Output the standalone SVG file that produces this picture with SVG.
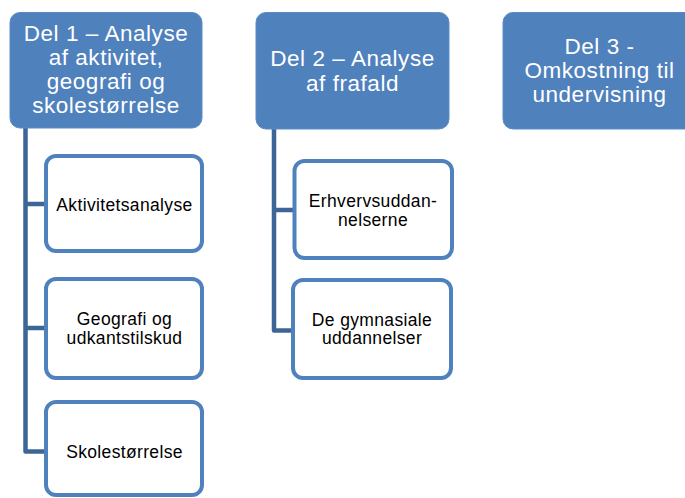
<svg xmlns="http://www.w3.org/2000/svg" width="685" height="498" viewBox="0 0 685 498">
<style>
.head{fill:#4F81BD;stroke:#5B8BC5;stroke-width:1}
.child{fill:#FFFFFF;stroke:#4F81BD;stroke-width:4}
.ht{font-family:"Liberation Sans",Arial,sans-serif;font-size:22.5px;letter-spacing:0.55px;fill:#FFFFFF;text-anchor:middle}
.ct{font-family:"Liberation Sans",Arial,sans-serif;font-size:17.5px;letter-spacing:0.35px;fill:#000000;text-anchor:middle}
.conn{fill:none;stroke:#3E6597;stroke-width:4.5;stroke-linejoin:round}
</style>
<rect width="685" height="498" fill="#FFFFFF"/>
<g id="connectors">
<path class="conn" d="M25.5,128 V451.5 H46 M25.5,204 H46 M25.5,328 H46"/>
<path class="conn" d="M274,129 V330.5 H293 M274,210 H293"/>
</g>
<g id="del1">
<rect class="head" x="10" y="12.5" width="192" height="115.5" rx="10"/>
<text class="ht" x="106" y="40.5">Del 1 – Analyse</text>
<text class="ht" x="106" y="64.5">af aktivitet,</text>
<text class="ht" x="106" y="89">geografi og</text>
<text class="ht" x="106" y="113">skolestørrelse</text>
</g>
<g id="del2">
<rect class="head" x="256" y="12.5" width="193" height="116.5" rx="10"/>
<text class="ht" x="352.5" y="65.5">Del 2 – Analyse</text>
<text class="ht" x="352.5" y="90.5">af frafald</text>
</g>
<g id="del3">
<rect class="head" x="503" y="12.5" width="193" height="116.5" rx="10"/>
<text class="ht" x="599.5" y="54">Del 3 -</text>
<text class="ht" x="599.5" y="78">Omkostning til</text>
<text class="ht" x="599.5" y="101.5">undervisning</text>
</g>
<g id="aktivitetsanalyse">
<rect class="child" x="46" y="156" width="156" height="95" rx="10"/>
<text class="ct" x="124.5" y="210.5">Aktivitetsanalyse</text>
</g>
<g id="geografi">
<rect class="child" x="46" y="279" width="156" height="99" rx="10"/>
<text class="ct" x="124.5" y="325">Geografi og</text>
<text class="ct" x="124.5" y="344">udkantstilskud</text>
</g>
<g id="skolestorrelse">
<rect class="child" x="46" y="402" width="156" height="93" rx="10"/>
<text class="ct" x="124.5" y="457.5">Skolestørrelse</text>
</g>
<g id="erhverv">
<rect class="child" x="294.5" y="161" width="157.5" height="97" rx="10"/>
<text class="ct" x="373" y="206.5">Erhvervsuddan-</text>
<text class="ct" x="373" y="225.5">nelserne</text>
</g>
<g id="gymnasiale">
<rect class="child" x="293" y="280" width="158" height="98" rx="10"/>
<text class="ct" x="372" y="325.5">De gymnasiale</text>
<text class="ct" x="372" y="344">uddannelser</text>
</g>
</svg>
